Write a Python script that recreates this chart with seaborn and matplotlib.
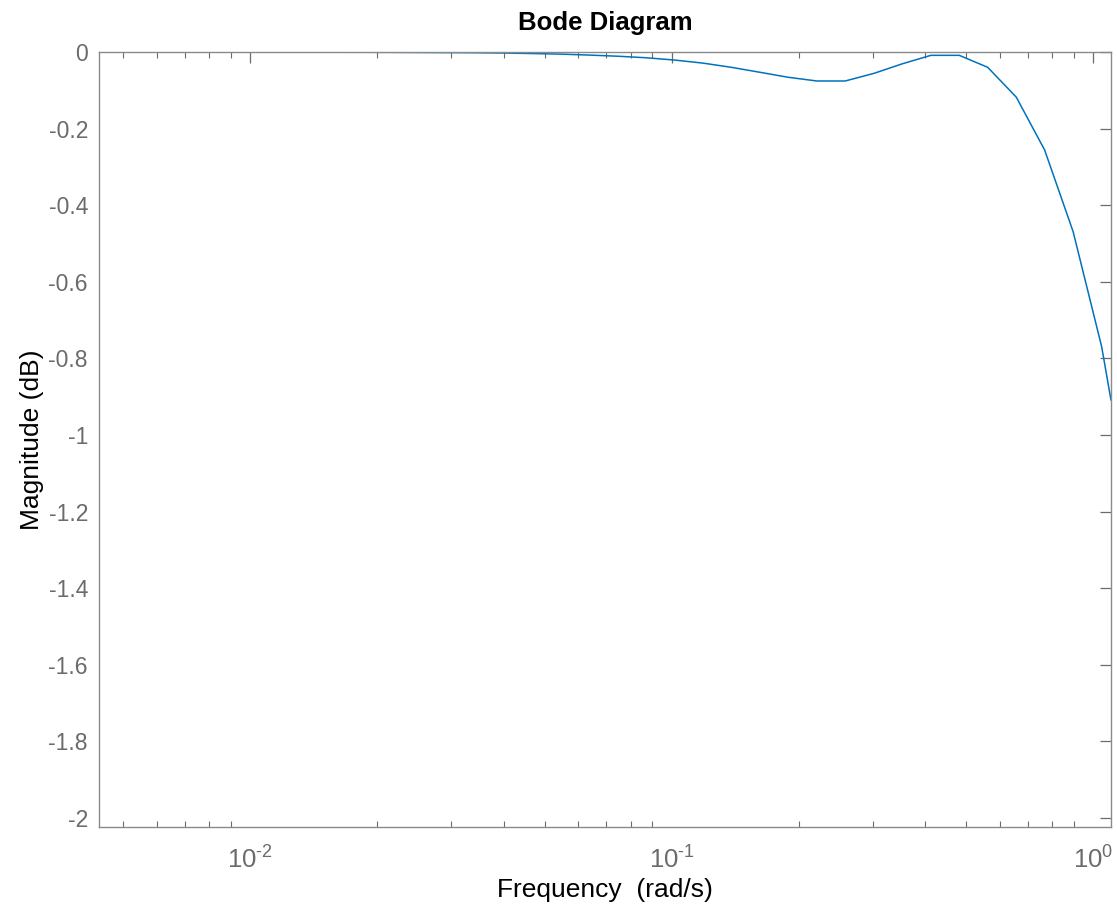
import matplotlib
matplotlib.use("Agg")
import matplotlib.pyplot as plt
import matplotlib.ticker as mticker
import seaborn as sns
import pandas as pd
import numpy as np

# Frequency (rad/s) and magnitude (dB)
freq = [0.00438, 0.01, 0.02, 0.0341, 0.0399, 0.0466, 0.0545, 0.0636, 0.0744,
        0.0869, 0.1015, 0.1186, 0.1385, 0.162, 0.189, 0.221, 0.258, 0.302,
        0.352, 0.412, 0.481, 0.562, 0.657, 0.767, 0.896, 1.047, 1.102]
mag = [0.0, -0.0002, -0.0008, -0.0019, -0.0027, -0.004, -0.0055, -0.008, -0.011,
       -0.015, -0.021, -0.029, -0.040, -0.053, -0.066, -0.0757, -0.0757, -0.0557,
       -0.031, -0.0087, -0.0087, -0.040, -0.118, -0.256, -0.469, -0.769, -0.909]

yticks = [0, -0.2, -0.4, -0.6, -0.8, -1, -1.2, -1.4, -1.6, -1.8, -2]
ytick_labels = ["0", "-0.2", "-0.4", "-0.6", "-0.8", "-1", "-1.2", "-1.4", "-1.6", "-1.8", "-2"]
xticks = [0.01, 0.1, 1.0]
xtick_labels = [r"$\mathregular{10^{\text{-2}}}$", r"$\mathregular{10^{\text{-1}}}$",
                r"$\mathregular{10^{0}}$"]

title = "Bode Diagram"
xlabel = "Frequency  (rad/s)"
ylabel = "Magnitude (dB)"

sns.set_theme(style="white")
plt.rcParams['font.family'] = ['Liberation Sans', 'DejaVu Sans']
plt.rcParams['mathtext.fontset'] = 'custom'
plt.rcParams['mathtext.rm'] = 'Liberation Sans'
plt.rcParams['mathtext.it'] = 'Liberation Sans'
plt.rcParams['axes.unicode_minus'] = False

df = pd.DataFrame({"freq": freq, "mag": mag})

fig = plt.figure(figsize=(11.17, 9.07), dpi=100)
ax = fig.add_axes([99/1117, 1 - 826.7/907, (1111 - 99)/1117, (826.7 - 52)/907])

sns.lineplot(data=df, x="freq", y="mag", ax=ax, color="#0072BD", linewidth=1.1,
             sort=False, estimator=None)

ax.set_xscale("log")
ax.set_xlim(0.00438, 1.102)
ax.set_ylim(-2.0227, 0)

ax.set_yticks(yticks)
ax.set_yticklabels(ytick_labels)
ax.set_xticks(xticks)
ax.set_xticklabels(xtick_labels)
ax.xaxis.set_minor_locator(mticker.LogLocator(base=10, subs=np.arange(2, 10)))
ax.xaxis.set_minor_formatter(mticker.NullFormatter())

axis_gray = "#8a8a8a"
label_gray = "#6b6b6b"
for s in ax.spines.values():
    s.set_visible(True)
    s.set_color(axis_gray)
    s.set_linewidth(1.0)

ax.tick_params(axis="both", which="major", direction="in", length=8, width=0.9,
               color="#6b6b6b", labelcolor=label_gray, labelsize=16.5,
               top=True, right=True)
ax.tick_params(axis="x", which="minor", direction="in", length=4.5, width=0.8,
               color="#6b6b6b", top=True, bottom=True)
ax.tick_params(axis="y", which="major", pad=8)
ax.tick_params(axis="x", which="major", pad=14, labelsize=18.5)
ax.grid(False)

ax.set_title(title, fontsize=18.5, fontweight="bold", color="black", pad=16)
ax.set_xlabel(xlabel, fontsize=19, color="black", labelpad=3)
ax.set_ylabel(ylabel, fontsize=19, color="black", labelpad=3)

fig.savefig("out.png", dpi=100, facecolor="white")
